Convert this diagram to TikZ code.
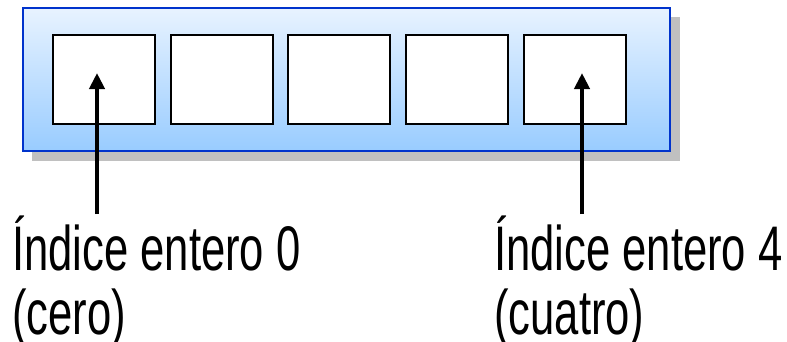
\documentclass[tikz,border=0pt]{standalone}
\usepackage{fontspec}
\setmainfont{Liberation Sans}
\newfontfamily\narrowfont[FakeStretch=0.692]{Liberation Sans}
\usetikzlibrary{arrows.meta}
\definecolor{frameblue}{RGB}{0,51,204}
\definecolor{topblue}{RGB}{232,243,255}
\definecolor{botblue}{RGB}{153,204,255}
\definecolor{shadowgray}{RGB}{192,192,192}
\tikzset{
  cell/.style={draw=black, line width=2pt, fill=white, minimum width=102pt, minimum height=89pt, inner sep=0pt, outer sep=0pt},
  arr/.style={line width=4pt, -{Triangle[width=15pt,length=16pt]}},
  lbl/.style={anchor=base west, inner sep=0pt, align=left, font=\narrowfont\fontsize{63}{64}\selectfont}
}
\begin{document}
\begin{tikzpicture}[x=1pt,y=-1pt]
\useasboundingbox (0,0) rectangle (787,341);
% shadow
\fill[shadowgray] (32,17) rectangle (680,161);
% frame
\node[draw=frameblue, line width=2pt, top color=topblue, bottom color=botblue, minimum width=647pt, minimum height=143pt, inner sep=0pt] (frame) at (346.75,79) {};
% cells
\node[cell] (c0) at (104,79.5) {};
\node[cell] (c1) at (221.5,79.5) {};
\node[cell] (c2) at (339.2,79.5) {};
\node[cell] (c3) at (457,79.5) {};
\node[cell] (c4) at (574.5,79.5) {};
% labels
\node[lbl] (l0) at (12,334.5) {Índice entero 0\\(cero)};
\node[lbl] (l4) at (494,334.5) {Índice entero 4\\(cuatro)};
% arrows
\coordinate (s0) at (97,214);
\coordinate (t0) at (97,73);
\coordinate (s4) at (582,214);
\coordinate (t4) at (582,73);
\draw[arr] (s0) -- (t0);
\draw[arr] (s4) -- (t4);
\end{tikzpicture}
\end{document}
